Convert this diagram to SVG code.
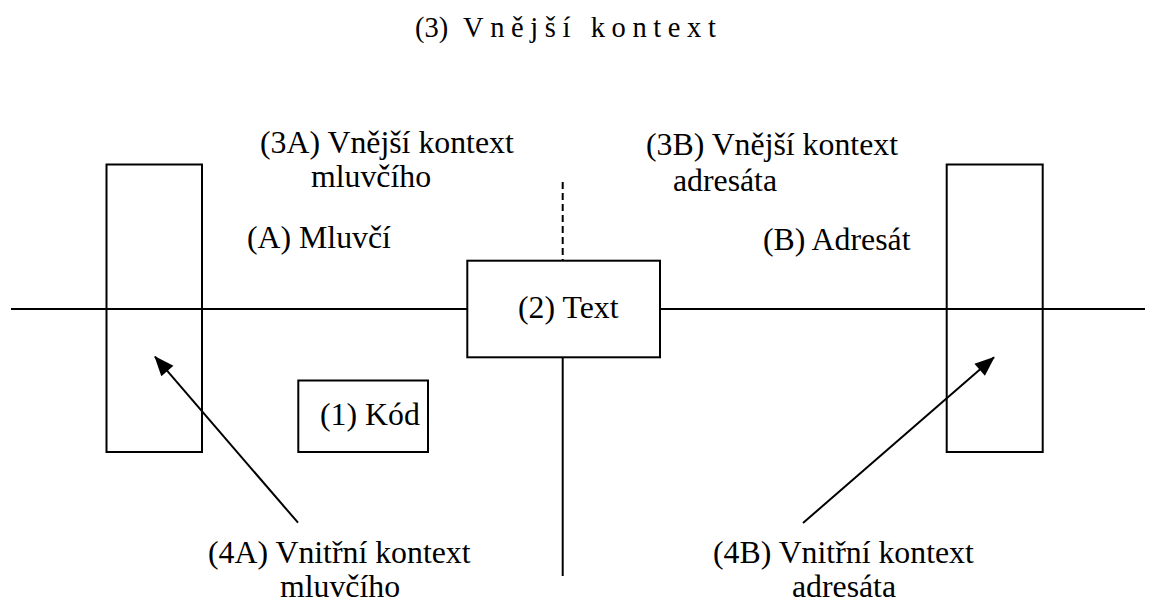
<svg xmlns="http://www.w3.org/2000/svg" width="1156" height="603" viewBox="0 0 1156 603">
  <style>
    .ln { stroke: #000; stroke-width: 2; fill: none; }
    .box { stroke: #000; stroke-width: 2; fill: #fff; }
    .lbl { font-family: "Liberation Serif", "Times New Roman", serif; font-size: 31.8px; fill: #000; }
    .title { font-family: "Liberation Serif", "Times New Roman", serif; font-size: 28.5px; fill: #000; }
  </style>
  <defs>
    <marker id="arrowhead" viewBox="0 0 20 16" refX="19" refY="8" markerWidth="20" markerHeight="16" markerUnits="userSpaceOnUse" orient="auto" overflow="visible">
      <path d="M0,0 L20,8 L0,16 Z" fill="#000"/>
    </marker>
  </defs>
  <rect width="1156" height="603" fill="#fff"/>

  <text class="title" y="37"><tspan x="415">(3)</tspan><tspan x="463" letter-spacing="6.6">Vnější kontext</tspan></text>

  <g id="connectors">
    <line class="ln" x1="11" y1="309" x2="1145" y2="309"/>
    <line class="ln" x1="562.7" y1="182" x2="562.7" y2="260.7" stroke-dasharray="7 4"/>
    <line class="ln" x1="562.7" y1="357.3" x2="562.7" y2="576"/>
    <line class="ln" x1="298" y1="522.7" x2="155" y2="356.7" marker-end="url(#arrowhead)"/>
    <line class="ln" x1="803" y1="523" x2="994" y2="357.3" marker-end="url(#arrowhead)"/>
  </g>

  <g id="speaker">
    <rect class="ln" x="106.5" y="164.5" width="95.5" height="287.5"/>
  </g>
  <g id="addressee">
    <rect class="ln" x="946.7" y="164.5" width="96" height="287.5"/>
  </g>

  <g id="text-node">
    <rect class="box" x="467.3" y="260.7" width="192.7" height="96.6"/>
    <text class="lbl" x="518" y="318.3">(2) Text</text>
  </g>

  <g id="code-node">
    <rect class="box" x="298.3" y="380.5" width="129.7" height="71.5"/>
    <text class="lbl" x="320" y="425">(1) Kód</text>
  </g>

  <g id="outer-speaker">
    <text class="lbl" x="260" y="153">(3A) Vnější kontext</text>
    <text class="lbl" x="371" y="187" text-anchor="middle">mluvčího</text>
  </g>
  <g id="outer-addressee">
    <text class="lbl" x="646" y="155">(3B) Vnější kontext</text>
    <text class="lbl" x="725" y="191" text-anchor="middle">adresáta</text>
  </g>

  <g id="label-speaker">
    <text class="lbl" x="247" y="248">(A) Mluvčí</text>
  </g>
  <g id="label-addressee">
    <text class="lbl" x="763" y="250">(B) Adresát</text>
  </g>

  <g id="inner-speaker">
    <text class="lbl" x="208" y="563">(4A) Vnitřní kontext</text>
    <text class="lbl" x="340" y="597" text-anchor="middle">mluvčího</text>
  </g>
  <g id="inner-addressee">
    <text class="lbl" x="713" y="563">(4B) Vnitřní kontext</text>
    <text class="lbl" x="844" y="597" text-anchor="middle">adresáta</text>
  </g>
</svg>
